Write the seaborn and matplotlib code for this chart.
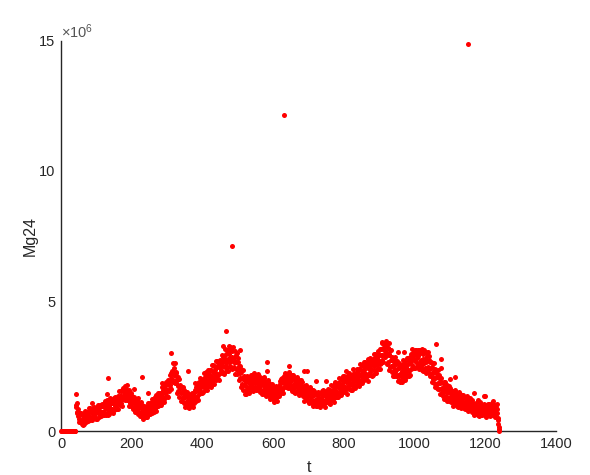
import numpy as np
import pandas as pd
import matplotlib
matplotlib.use("Agg")
import matplotlib.pyplot as plt
import seaborn as sns

# Mg24 signal per time step (units of 1e4 counts), t = 1 .. 1240
mg24_1e4 = [
    0, 0, 0, 0, 0, 0, 0, 0, 0, 0, 0, 0, 0, 0, 0, 0, 0, 0, 0, 0,
    0, 0, 0, 0, 0, 0, 0, 0, 0, 0, 0, 0, 0, 0, 0, 0, 0, 0, 0, 0,
    144, 92, 101, 75, 106, 68, 58, 73, 84, 46, 63, 33, 71, 44, 64, 68, 39, 44, 63, 27,
    39, 64, 24, 51, 67, 28, 77, 47, 41, 56, 75, 33, 51, 74, 48, 60, 38, 90, 50, 73,
    89, 53, 41, 80, 47, 84, 68, 42, 73, 88, 56, 67, 60, 93, 54, 77, 88, 73, 46, 89,
    94, 47, 82, 68, 101, 75, 55, 94, 99, 64, 76, 58, 96, 73, 96, 103, 65, 75, 99, 60,
    74, 102, 60, 88, 106, 63, 115, 90, 69, 97, 118, 61, 91, 106, 81, 96, 66, 126, 85, 108,
    123, 86, 75, 109, 85, 116, 107, 68, 112, 127, 81, 106, 96, 130, 85, 113, 128, 102, 86, 124,
    134, 84, 126, 102, 155, 115, 101, 136, 154, 106, 133, 97, 157, 123, 152, 166, 122, 140, 164, 120,
    140, 173, 123, 154, 163, 121, 177, 136, 119, 142, 156, 98, 128, 144, 106, 125, 95, 148, 108, 126,
    136, 107, 84, 125, 90, 129, 108, 72, 117, 121, 83, 98, 86, 121, 73, 98, 110, 84, 64, 102,
    103, 59, 91, 68, 110, 74, 61, 88, 101, 58, 79, 47, 94, 64, 85, 95, 58, 71, 91, 52,
    68, 95, 54, 81, 93, 64, 106, 82, 67, 94, 106, 64, 86, 108, 76, 99, 71, 123, 87, 110,
    124, 93, 73, 118, 86, 129, 109, 76, 120, 137, 95, 114, 106, 148, 97, 129, 144, 118, 99, 146,
    148, 101, 139, 121, 171, 134, 112, 159, 174, 124, 151, 113, 176, 145, 167, 190, 132, 159, 182, 134,
    153, 198, 132, 180, 192, 152, 217, 177, 165, 200, 222, 161, 200, 230, 191, 220, 188, 260, 216, 244,
    260, 214, 185, 226, 184, 224, 199, 148, 197, 206, 152, 172, 153, 199, 132, 169, 177, 146, 116, 168,
    166, 116, 149, 126, 171, 132, 109, 146, 156, 108, 129, 93, 146, 113, 133, 150, 97, 118, 134, 91,
    104, 140, 87, 121, 130, 96, 143, 116, 100, 127, 145, 94, 124, 143, 113, 132, 108, 159, 127, 149,
    170, 132, 115, 161, 130, 175, 159, 120, 172, 187, 143, 167, 154, 204, 146, 184, 196, 172, 147, 198,
    200, 149, 189, 169, 223, 182, 158, 206, 218, 171, 193, 159, 219, 185, 210, 233, 172, 199, 220, 173,
    189, 233, 168, 212, 233, 181, 254, 208, 195, 227, 254, 182, 222, 249, 207, 233, 198, 268, 221, 247,
    271, 221, 200, 254, 217, 265, 248, 196, 261, 275, 222, 250, 235, 291, 222, 264, 283, 249, 222, 280,
    290, 220, 273, 245, 316, 262, 232, 295, 311, 248, 278, 232, 309, 267, 298, 328, 250, 282, 311, 243,
    269, 317, 238, 286, 306, 243, 323, 267, 247, 281, 309, 219, 265, 291, 239, 265, 221, 301, 238, 266,
    280, 226, 197, 249, 204, 250, 224, 170, 226, 238, 177, 203, 180, 235, 158, 199, 211, 177, 143, 202,
    198, 144, 187, 159, 213, 168, 152, 192, 208, 157, 183, 145, 207, 170, 198, 214, 161, 181, 204, 156,
    173, 211, 155, 192, 208, 163, 225, 186, 168, 199, 213, 156, 184, 211, 167, 194, 156, 221, 173, 200,
    212, 175, 151, 198, 159, 204, 182, 142, 188, 203, 152, 177, 157, 207, 143, 182, 188, 164, 134, 187,
    185, 139, 171, 151, 195, 159, 135, 175, 183, 139, 157, 125, 175, 145, 164, 182, 128, 150, 165, 125,
    136, 170, 112, 146, 159, 118, 173, 137, 126, 150, 170, 115, 147, 171, 138, 162, 133, 194, 155, 180,
    201, 164, 147, 194, 158, 205, 190, 146, 201, 211, 170, 190, 179, 225, 170, 204, 219, 191, 169, 216,
    216, 167, 202, 181, 228, 189, 164, 209, 216, 171, 191, 152, 214, 175, 202, 215, 162, 179, 202, 151,
    170, 201, 148, 179, 194, 151, 207, 169, 157, 179, 197, 139, 169, 187, 153, 171, 141, 195, 155, 173,
    189, 149, 133, 169, 141, 175, 159, 117, 165, 173, 131, 149, 137, 177, 123, 153, 165, 137, 115, 155,
    161, 109, 147, 121, 171, 129, 111, 145, 159, 109, 133, 96, 152, 116, 140, 152, 105, 121, 142, 96,
    113, 143, 96, 124, 139, 99, 150, 116, 105, 127, 147, 94, 124, 141, 111, 128, 104, 153, 121, 138,
    156, 117, 103, 140, 114, 149, 135, 94, 144, 153, 113, 132, 122, 163, 111, 142, 156, 129, 109, 150,
    158, 104, 148, 122, 178, 134, 118, 158, 174, 125, 151, 113, 175, 140, 168, 184, 132, 153, 177, 130,
    148, 186, 130, 168, 184, 140, 202, 164, 152, 178, 200, 138, 174, 196, 159, 181, 151, 211, 170, 192,
    213, 169, 151, 195, 163, 207, 190, 142, 200, 212, 165, 187, 175, 223, 162, 200, 214, 184, 159, 211,
    216, 158, 204, 178, 238, 190, 165, 213, 225, 177, 199, 165, 225, 191, 215, 239, 177, 205, 225, 179,
    195, 239, 173, 217, 237, 185, 257, 211, 197, 229, 255, 183, 223, 249, 207, 233, 197, 267, 219, 245,
    267, 219, 199, 249, 213, 261, 243, 193, 255, 267, 217, 243, 227, 281, 215, 255, 271, 239, 213, 269,
    276, 214, 261, 235, 298, 251, 224, 280, 295, 236, 265, 223, 292, 255, 282, 308, 241, 268, 293, 239,
    259, 316, 237, 294, 315, 260, 341, 294, 275, 318, 338, 266, 313, 340, 296, 331, 283, 345, 303, 331,
    338, 293, 259, 318, 266, 321, 294, 233, 298, 313, 246, 275, 250, 311, 226, 274, 286, 248, 210, 278,
    274, 212, 256, 226, 285, 235, 210, 256, 271, 211, 238, 192, 259, 217, 244, 263, 198, 221, 248, 190,
    211, 255, 189, 232, 252, 200, 272, 225, 211, 243, 269, 196, 236, 262, 220, 245, 209, 279, 231, 257,
    281, 235, 212, 270, 230, 283, 263, 215, 278, 296, 240, 272, 254, 314, 241, 287, 302, 272, 241, 303,
    310, 244, 293, 266, 312, 281, 251, 303, 312, 254, 288, 237, 313, 265, 299, 312, 250, 272, 302, 236,
    258, 306, 230, 276, 296, 238, 310, 262, 244, 278, 304, 222, 264, 290, 242, 268, 226, 304, 248, 274,
    290, 239, 211, 264, 220, 267, 243, 190, 248, 261, 201, 228, 206, 261, 185, 226, 238, 203, 169, 226,
    224, 166, 206, 180, 234, 185, 161, 203, 215, 161, 183, 143, 203, 163, 187, 205, 144, 166, 186, 134,
    149, 187, 125, 164, 174, 131, 187, 150, 132, 159, 176, 114, 145, 168, 127, 149, 114, 175, 130, 153,
    166, 127, 110, 147, 118, 153, 136, 95, 143, 152, 109, 128, 116, 157, 103, 134, 146, 119, 97, 138,
    141, 94, 128, 105, 151, 114, 98, 131, 143, 98, 120, 87, 137, 106, 128, 139, 95, 110, 130, 87,
    102, 129, 85, 112, 124, 89, 134, 103, 93, 112, 127, 78, 104, 119, 90, 105, 81, 126, 93, 108,
    119, 88, 75, 102, 81, 106, 96, 63, 100, 105, 74, 88, 77, 108, 67, 91, 98, 77, 61, 92,
    96, 57, 89, 70, 110, 77, 60, 92, 99, 69, 82, 60, 97, 77, 92, 101, 67, 78, 96, 61,
    75, 100, 55, 87, 92, 68, 105, 83, 70, 86, 103, 58, 84, 97, 67, 88, 61, 109, 74, 94,
    103, 72, 62, 89, 71, 96, 81, 55, 88, 100, 65, 85, 70, 102, 50, 42, 27, 15, 8, 0,
]

# Isolated readings well above the main band (time step, units of 1e4)
spike_t = [87, 124, 129, 134, 137, 207, 219, 228, 247, 285, 311, 358, 379, 388,
           409, 457, 466, 478, 483, 506, 539, 574, 583, 584, 631, 646, 674, 687,
           697, 712, 720, 749, 775, 805, 869, 907, 928, 954, 971, 982, 1020,
           1060, 1074, 1075, 1100, 1114, 1152, 1169, 1178, 1196, 1197, 1198, 1223]
spike_v = [109, 117, 142, 203, 120, 161, 128, 209, 145, 183, 299, 232, 183, 183,
           228, 327, 386, 324, 712, 311, 215, 203, 267, 232, 1215, 250, 196, 232,
           232, 158, 194, 194, 190, 232, 276, 337, 340, 303, 305, 277, 314,
           335, 276, 244, 199, 209, 1487, 147, 119, 104, 136, 133, 117]

t_main = np.arange(1, len(mg24_1e4) + 1)
df = pd.DataFrame({
    "t": np.concatenate([t_main, spike_t]),
    "Mg24": np.concatenate([mg24_1e4, spike_v]).astype(float) * 1e4,
})

sns.set_style("white")
plt.rcParams["font.family"] = ["Liberation Sans", "DejaVu Sans"]
plt.rcParams["mathtext.fontset"] = "custom"
plt.rcParams["mathtext.rm"] = "Liberation Sans"
plt.rcParams["mathtext.it"] = "Liberation Sans"

fig = plt.figure(figsize=(5.9, 4.75), dpi=100)
ax = fig.add_axes([0.1034, 0.0926, 0.839, 0.8211])

sns.scatterplot(data=df, x="t", y="Mg24", color="#ff0000", s=13,
                linewidth=0, marker="o", ax=ax, clip_on=False, zorder=5)

axis_color = "#262626"
ax.set_xlim(0, 1400)
ax.set_ylim(0, 15e6)
ax.set_xticks(np.arange(0, 1401, 200))
ax.set_yticks([0, 5e6, 10e6, 15e6])
ax.set_yticklabels(["0", "5", "10", "15"])
ax.tick_params(direction="in", length=4.5, width=1.0, colors=axis_color,
               labelsize=10.5, pad=4)
for side in ("top", "right"):
    ax.spines[side].set_visible(False)
for side in ("left", "bottom"):
    ax.spines[side].set_color(axis_color)
    ax.spines[side].set_linewidth(1.0)

ax.set_xlabel("t", fontsize=11.5, color=axis_color, labelpad=7)
ax.set_ylabel("Mg24", fontsize=11.5, color=axis_color, labelpad=1)
ax.text(0.0, 1.0, r"×10$^{6}$", transform=ax.transAxes, fontsize=10.5,
        color="#555555", ha="left", va="bottom")

fig.savefig("out.png", dpi=100, facecolor="white")
